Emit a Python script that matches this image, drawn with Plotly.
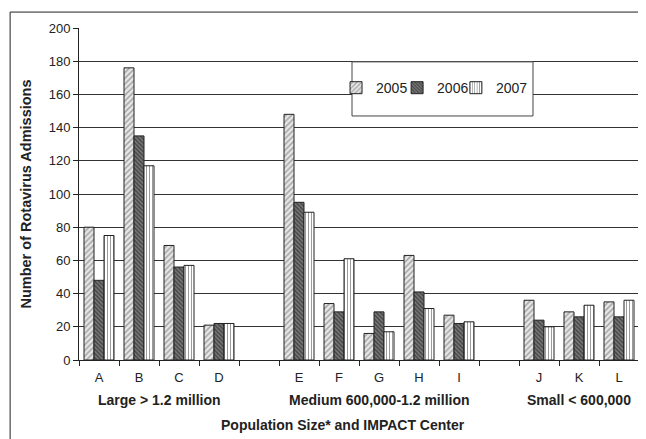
import plotly.graph_objects as go

slots = ["A", "B", "C", "D", " ", "E", "F", "G", "H", "I", "  ", "J", "K", "L"]
centers = ["A", "B", "C", "D", "E", "F", "G", "H", "I", "J", "K", "L"]
years = ["2005", "2006", "2007"]
v2005 = [80, 176, 69, 21, 148, 34, 16, 63, 27, 36, 29, 35]
v2006 = [48, 135, 56, 22, 95, 29, 29, 41, 22, 24, 26, 26]
v2007 = [75, 117, 57, 22, 89, 61, 17, 31, 23, 20, 33, 36]
groups = ["Large > 1.2 million", "Medium 600,000-1.2 million", "Small < 600,000"]
group_pos = [1.5, 7, 12]
y_ticks = [0, 20, 40, 60, 80, 100, 120, 140, 160, 180, 200]

FONT = "Liberation Sans, Arial, sans-serif"
TXT = "#222222"

styles = [
    dict(shape="/", fgcolor="#555555", bgcolor="#e6e6e6", size=4, solidity=0.35),
    dict(shape="\\", fgcolor="#111111", bgcolor="#7a7a7a", size=3, solidity=0.5),
    dict(shape="|", fgcolor="#222222", bgcolor="#ffffff", size=3, solidity=0.3),
]
legend_ids = ["legend", "legend2", "legend3"]
legend_x = [0.459, 0.568, 0.673]

fig = go.Figure()
for name, vals, st, lid in zip(years, [v2005, v2006, v2007], styles, legend_ids):
    fig.add_trace(go.Bar(
        name=name, x=centers, y=vals, legend=lid,
        marker=dict(color=st["bgcolor"], pattern=st,
                    line=dict(color="#222222", width=1)),
    ))

leg_common = dict(orientation="h", y=0.819, xanchor="left", yanchor="middle",
                  bgcolor="rgba(0,0,0,0)", borderwidth=0,
                  font=dict(family=FONT, size=14, color=TXT), itemwidth=30)

fig.update_layout(
    width=638, height=431,
    margin=dict(l=71, r=7, t=20, b=79, autoexpand=False),
    paper_bgcolor="white", plot_bgcolor="white",
    barmode="group", bargap=0.25, bargroupgap=0,
    font=dict(family=FONT, size=13, color=TXT),
    showlegend=True,
    legend=dict(x=legend_x[0], **leg_common),
    legend2=dict(x=legend_x[1], **leg_common),
    legend3=dict(x=legend_x[2], **leg_common),
    xaxis=dict(type="category", categoryorder="array", categoryarray=slots,
               range=[-0.5, len(slots) - 0.5], tickson="boundaries",
               ticks="outside", ticklen=5, tickcolor="#222", showgrid=False,
               showline=True, linecolor="#222", linewidth=1,
               ticklabelstandoff=5,
               tickfont=dict(size=13, color=TXT)),
    yaxis=dict(range=[0, 200], tickvals=y_ticks, ticks="outside", ticklen=5,
               tickcolor="#222", showline=True, linecolor="#222", linewidth=1,
               showgrid=True, gridcolor="#333333", gridwidth=1,
               tickfont=dict(size=13, color=TXT),
               title=dict(text="<b>Number of Rotavirus Admissions</b>",
                          font=dict(size=14.5, color=TXT), standoff=13)),
)

for g, p in zip(groups, group_pos):
    fig.add_annotation(x=p, y=-0.12, xref="x", yref="paper", text="<b>%s</b>" % g,
                       showarrow=False, font=dict(size=14, color=TXT), yanchor="middle")
fig.add_annotation(x=0.471, y=-0.196, xref="paper", yref="paper",
                   text="<b>Population Size* and IMPACT Center</b>",
                   showarrow=False, font=dict(size=14, color=TXT), yanchor="middle")

# outer chart frame
fig.add_shape(type="rect", xref="paper", yref="paper", x0=-0.123, x1=1.2, y0=-0.4, y1=1.048,
              line=dict(color="#222", width=1), fillcolor="rgba(0,0,0,0)", layer="below")
# right plot border
fig.add_shape(type="line", xref="paper", yref="paper", x0=1, x1=1, y0=0, y1=1,
              line=dict(color="#999", width=1))
# legend box
fig.add_shape(type="rect", xref="paper", yref="paper", x0=0.4875, x1=0.8107, y0=0.735, y1=0.898,
              line=dict(color="#444", width=1), fillcolor="white", layer="above")

fig.write_html("out.html")
